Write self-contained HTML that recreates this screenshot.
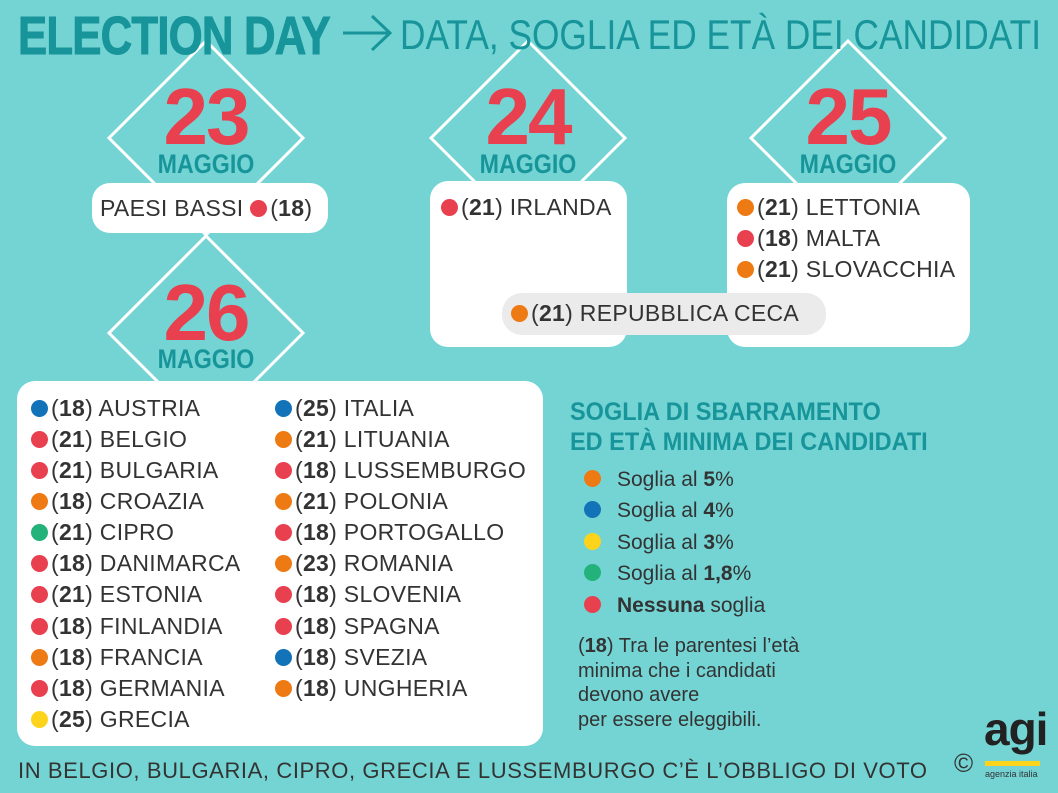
<!DOCTYPE html>
<html><head><meta charset="utf-8"><style>
*{margin:0;padding:0;box-sizing:border-box}
body{width:1058px;height:793px;background:#74d4d4;position:relative;overflow:hidden;font-family:"Liberation Sans",sans-serif;color:#333}
.a{position:absolute;white-space:nowrap}
.box{position:absolute;background:#fff;border-radius:18px}
.d{display:inline-block;width:17px;height:17px;border-radius:50%;vertical-align:-1px;margin-right:3px}
.r{background:#e8404f}.o{background:#ee7a14}.b{background:#1273b9}.y{background:#fdd41b}.g{background:#23b37a}
.row{position:absolute;font-size:23px;line-height:28px;white-space:nowrap;letter-spacing:0.3px}
.row b{color:#333}
.num{position:absolute;font-weight:bold;color:#e8404f;font-size:80px;line-height:80px;width:200px;text-align:center;letter-spacing:-2px}
.mag{position:absolute;font-weight:bold;color:#17959a;font-size:27px;line-height:27px;width:200px;text-align:center;transform:scaleX(0.86)}
</style></head><body>
<svg class="a" style="left:0;top:0" width="1058" height="793">
<g fill="none" stroke="#fff" stroke-width="3">
<polygon points="206,41 303,138 206,235 109,138"/>
<polygon points="528,41 625,138 528,235 431,138"/>
<polygon points="848,41 945,138 848,235 751,138"/>
<polygon points="206,236 303,333 206,430 109,333"/>
</g>
<g fill="none" stroke="#17959a" stroke-width="3"><line x1="343" y1="33" x2="390" y2="33"/><polyline points="372,16 390,33 372,50"/></g>
</svg>
<div class="a" style="left:18px;top:5px;font-size:54px;font-weight:bold;color:#17959a;transform:scaleX(0.81);transform-origin:0 0;letter-spacing:-1px;-webkit-text-stroke:1px #17959a">ELECTION DAY</div>
<div class="a" style="left:400px;top:11px;font-size:42px;color:#17959a;transform:scaleX(0.84);transform-origin:0 0">DATA, SOGLIA ED ETÀ DEI CANDIDATI</div>

<div class="num" style="left:106px;top:77px">23</div><div class="mag" style="left:106px;top:151px">MAGGIO</div>
<div class="num" style="left:428px;top:77px">24</div><div class="mag" style="left:428px;top:151px">MAGGIO</div>
<div class="num" style="left:748px;top:77px">25</div><div class="mag" style="left:748px;top:151px">MAGGIO</div>
<div class="num" style="left:106px;top:273px">26</div><div class="mag" style="left:106px;top:346px">MAGGIO</div>

<div class="box" style="left:92px;top:183px;width:236px;height:50px"></div>
<div class="row" style="left:100px;top:194px">PAESI BASSI <span class="d r"></span>(<b>18</b>)</div>

<div class="box" style="left:430px;top:181px;width:197px;height:166px"></div>
<div class="row" style="left:441px;top:193px"><span class="d r"></span>(<b>21</b>) IRLANDA</div>

<div class="box" style="left:727px;top:183px;width:243px;height:164px"></div>
<div class="row" style="left:737px;top:193px"><span class="d o"></span>(<b>21</b>) LETTONIA</div>
<div class="row" style="left:737px;top:224px"><span class="d r"></span>(<b>18</b>) MALTA</div>
<div class="row" style="left:737px;top:255px"><span class="d o"></span>(<b>21</b>) SLOVACCHIA</div>

<div class="a" style="left:502px;top:293px;width:324px;height:42px;background:#ebebeb;border-radius:20px"></div>
<div class="row" style="left:511px;top:299px"><span class="d o"></span>(<b>21</b>) REPUBBLICA CECA</div>

<div class="box" style="left:17px;top:381px;width:526px;height:365px"></div>
<div class="row" style="left:31px;top:394px"><span class="d b"></span>(<b>18</b>) AUSTRIA</div>
<div class="row" style="left:31px;top:425px"><span class="d r"></span>(<b>21</b>) BELGIO</div>
<div class="row" style="left:31px;top:456px"><span class="d r"></span>(<b>21</b>) BULGARIA</div>
<div class="row" style="left:31px;top:487px"><span class="d o"></span>(<b>18</b>) CROAZIA</div>
<div class="row" style="left:31px;top:518px"><span class="d g"></span>(<b>21</b>) CIPRO</div>
<div class="row" style="left:31px;top:549px"><span class="d r"></span>(<b>18</b>) DANIMARCA</div>
<div class="row" style="left:31px;top:580px"><span class="d r"></span>(<b>21</b>) ESTONIA</div>
<div class="row" style="left:31px;top:612px"><span class="d r"></span>(<b>18</b>) FINLANDIA</div>
<div class="row" style="left:31px;top:643px"><span class="d o"></span>(<b>18</b>) FRANCIA</div>
<div class="row" style="left:31px;top:674px"><span class="d r"></span>(<b>18</b>) GERMANIA</div>
<div class="row" style="left:31px;top:705px"><span class="d y"></span>(<b>25</b>) GRECIA</div>
<div class="row" style="left:275px;top:394px"><span class="d b"></span>(<b>25</b>) ITALIA</div>
<div class="row" style="left:275px;top:425px"><span class="d o"></span>(<b>21</b>) LITUANIA</div>
<div class="row" style="left:275px;top:456px"><span class="d r"></span>(<b>18</b>) LUSSEMBURGO</div>
<div class="row" style="left:275px;top:487px"><span class="d o"></span>(<b>21</b>) POLONIA</div>
<div class="row" style="left:275px;top:518px"><span class="d r"></span>(<b>18</b>) PORTOGALLO</div>
<div class="row" style="left:275px;top:549px"><span class="d o"></span>(<b>23</b>) ROMANIA</div>
<div class="row" style="left:275px;top:580px"><span class="d r"></span>(<b>18</b>) SLOVENIA</div>
<div class="row" style="left:275px;top:612px"><span class="d r"></span>(<b>18</b>) SPAGNA</div>
<div class="row" style="left:275px;top:643px"><span class="d b"></span>(<b>18</b>) SVEZIA</div>
<div class="row" style="left:275px;top:674px"><span class="d o"></span>(<b>18</b>) UNGHERIA</div>

<div class="a" style="left:570px;top:397px;font-size:25px;line-height:30px;font-weight:bold;color:#17959a;transform:scaleX(0.94);transform-origin:0 0">SOGLIA DI SBARRAMENTO<br>ED ETÀ MINIMA DEI CANDIDATI</div>
<div class="row" style="left:584px;top:466px;font-size:21px;letter-spacing:0"><span class="d o" style="margin-right:16px"></span>Soglia al <b>5</b>%</div>
<div class="row" style="left:584px;top:497px;font-size:21px;letter-spacing:0"><span class="d b" style="margin-right:16px"></span>Soglia al <b>4</b>%</div>
<div class="row" style="left:584px;top:529px;font-size:21px;letter-spacing:0"><span class="d y" style="margin-right:16px"></span>Soglia al <b>3</b>%</div>
<div class="row" style="left:584px;top:560px;font-size:21px;letter-spacing:0"><span class="d g" style="margin-right:16px"></span>Soglia al <b>1,8</b>%</div>
<div class="row" style="left:584px;top:592px;font-size:21px;letter-spacing:0"><span class="d r" style="margin-right:16px"></span><b>Nessuna</b> soglia</div>
<div class="a" style="left:578px;top:634px;font-size:20px;line-height:24.5px">(<b>18</b>) Tra le parentesi l’età<br>minima che i candidati<br>devono avere<br>per essere eleggibili.</div>

<div class="a" style="left:18px;top:758px;font-size:22px;letter-spacing:0.6px">IN BELGIO, BULGARIA, CIPRO, GRECIA E LUSSEMBURGO C’È L’OBBLIGO DI VOTO</div>
<div class="a" style="left:954px;top:748px;font-size:26px">©</div>
<div class="a" style="left:984px;top:702px;font-size:46px;font-weight:bold;color:#222;letter-spacing:-1px">agi</div>
<div class="a" style="left:985px;top:761px;width:55px;height:5px;background:#fdd41b"></div>
<div class="a" style="left:985px;top:769px;font-size:9px;color:#333">agenzia italia</div>
</body></html>
